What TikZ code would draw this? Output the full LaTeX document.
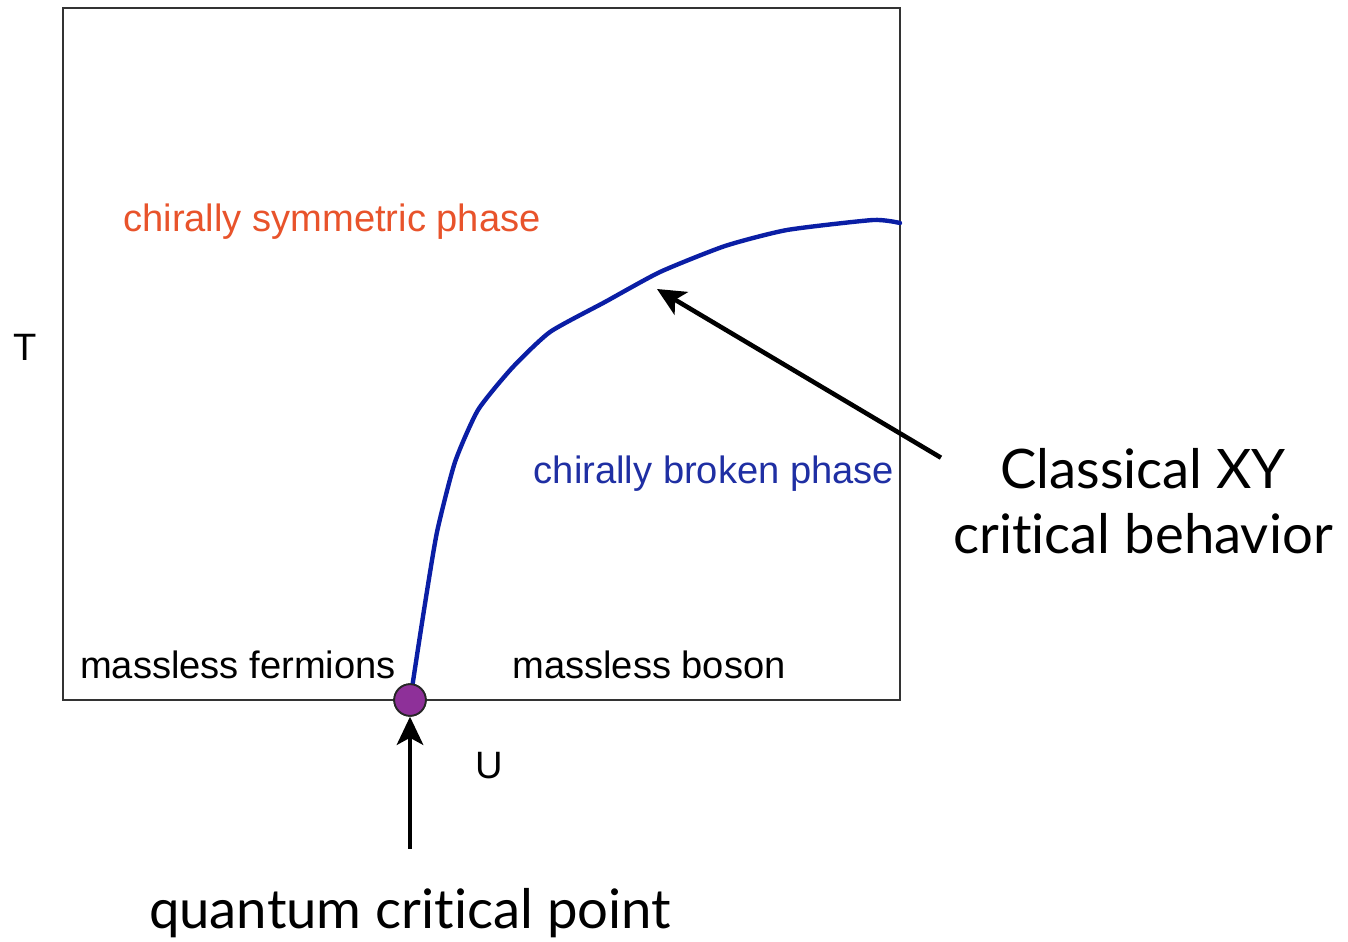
\documentclass[tikz,border=0pt]{standalone}
\usepackage{xcolor}
\usepackage{fontspec}
\setmainfont{Liberation Sans}
\newfontfamily\talkfont[Ligatures={NoCommon,NoRare,NoDiscretionary}]{Lato}
\usepackage{tikz}
\usetikzlibrary{arrows.meta,positioning}
\definecolor{symorange}{HTML}{E8532B}
\definecolor{brokenblue}{HTML}{1F2FA3}
\definecolor{lineblue}{HTML}{0A1EA5}
\definecolor{qcpurple}{HTML}{8E3099}
\definecolor{framegray}{HTML}{333333}

\begin{document}
\begin{tikzpicture}[
  x=0.02cm, y=-0.02cm,
  frame/.style={draw=framegray, line width=1.1pt},
  region/.style={font=\fontsize{21.7pt}{26pt}\selectfont, anchor=base, inner sep=0pt},
  axis label/.style={region, text=black},
  talk/.style={font=\talkfont\fontsize{31pt}{36.9pt}\selectfont, anchor=base,
               inner sep=0pt, align=center},
  boundary/.style={draw=lineblue, line width=2.5pt, line cap=round, line join=round},
  critical dot/.style={circle, draw=black!85, line width=1pt, fill=qcpurple,
                       minimum size=18pt, inner sep=0pt},
  pointer/.style={-{Stealth[length=16pt, width=15pt, inset=4pt]}, line width=2.6pt},
]
  \useasboundingbox (0,0) rectangle (1348,942);

  % Phase diagram frame.
  \draw[frame] (63,8) rectangle (900,700);

  % Phase labels inside the frame.
  \node[region, text=symorange] (sym) at (332,232) {chirally symmetric phase};
  \node[region, text=brokenblue] (broken) at (714,483) {chirally broken phase};
  \node[axis label] (fermions) at (238,678) {massless fermions};
  \node[axis label] (boson) at (649,678) {massless boson};

  % Axes.
  \node[axis label] (T) at (25,360) {T};
  \node[axis label] (U) at (489,778) {U};

  % Phase boundary from the quantum critical point.
  \node[critical dot] (qcp) at (410,700) {};
  \draw[boundary] plot[smooth, tension=0.35] coordinates {
    (412,688) (424,610) (437,532) (455,462) (478,410) (512,368) (550,332)
    (605,302) (660,272) (725,246) (787,230) (873,220) (900,223)};
  \node[critical dot] at (qcp) {};
  \coordinate (xy-tip) at (657,289);

  % Annotations.
  \node[talk] (xy-label) at (1143,553) {Classical XY\\critical behavior};
  \node[talk] (qcp-label) at (410,928) {quantum critical point};
  \draw[pointer] ([shift={(-12,10)}]xy-label.north west) -- (xy-tip);
  \draw[pointer, shorten <=22] (qcp-label.north -| qcp.south) -- (qcp.south);
\end{tikzpicture}
\end{document}
